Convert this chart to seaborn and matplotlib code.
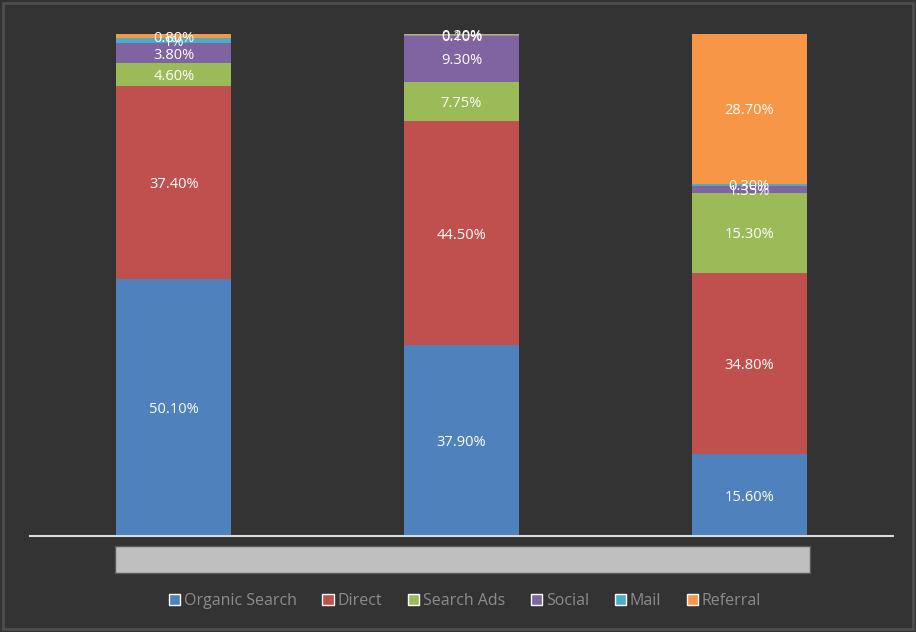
import numpy as np
import pandas as pd
import seaborn as sns
import matplotlib
matplotlib.use("Agg")
import matplotlib.pyplot as plt
from matplotlib.patches import Rectangle

# ---- data ----
groups = ["A", "B", "C"]
series = ["Organic Search", "Direct", "Search Ads", "Social", "Mail", "Referral"]
organic_search = [50.10, 37.90, 15.60]
direct = [37.40, 44.50, 34.80]
search_ads = [4.60, 7.75, 15.30]
social = [3.80, 9.30, 1.35]
mail = [1.0, 0.10, 0.30]
referral = [0.80, 0.20, 28.70]
colors = ["#4F81BD", "#C0504D", "#9BBB59", "#8064A2", "#4BACC6", "#F79646"]

values = {
    "Organic Search": organic_search,
    "Direct": direct,
    "Search Ads": search_ads,
    "Social": social,
    "Mail": mail,
    "Referral": referral,
}

def fmt(v):
    if float(v).is_integer():
        return f"{int(v)}%"
    return f"{v:.2f}%"

df = pd.DataFrame(values, index=groups)
share = df.div(df.sum(axis=1), axis=0) * 100
cum = share.cumsum(axis=1)

sns.set_theme(style="white")
plt.rcParams["font.family"] = ["Open Sans", "DejaVu Sans"]

bg = "#333333"
fig = plt.figure(figsize=(9.16, 6.32), dpi=100, facecolor=bg)
ax = fig.add_axes([30 / 916, 1 - 536 / 632, (893 - 30) / 916, (536 - 34) / 632])
ax.set_facecolor(bg)

# layered cumulative bars: draw tallest (top series) first
for name, col in reversed(list(zip(series, colors))):
    d = pd.DataFrame({"group": groups, "top": cum[name].values})
    sns.barplot(data=d, x="group", y="top", color=col, width=0.4,
                saturation=1, ax=ax, edgecolor="none", linewidth=0)

# labels at segment centres
for name in series:
    lower = cum[name] - share[name]
    for i, g in enumerate(groups):
        yc = lower[g] + share[name][g] / 2
        ax.text(i, yc, fmt(df.loc[g, name]), ha="center", va="center_baseline",
                color="white", fontsize=10.5)

ax.set_xlim(-0.5, 2.5)
ax.set_ylim(0, 100)
ax.set_xticks([])
ax.set_yticks([])
ax.set_xlabel("")
ax.set_ylabel("")
for s in ["top", "left", "right"]:
    ax.spines[s].set_visible(False)
ax.spines["bottom"].set_color("#d9d9d9")
ax.spines["bottom"].set_linewidth(1.5)

# grey category strip below axis
fig.patches.append(Rectangle((115 / 916, 1 - 573 / 632), (810 - 115) / 916, 27 / 632,
                             transform=fig.transFigure, facecolor="#bfbfbf",
                             edgecolor="#595959", linewidth=1))
# outer border
fig.patches.append(Rectangle((3 / 916, 3 / 632), 910 / 916, 626 / 632,
                             transform=fig.transFigure, facecolor="none",
                             edgecolor="#4d4d4d", linewidth=2))

handles = [Rectangle((0, 0), 1, 1, facecolor=c) for c in colors]
leg = fig.legend(handles, series, loc="center", bbox_to_anchor=(465 / 916, 1 - 601 / 632),
                 ncol=6, frameon=False, fontsize=11.5, handlelength=0.7, handleheight=0.7,
                 handletextpad=0.25, columnspacing=1.6, labelcolor="#8c8c8c")

fig.savefig("out.png", dpi=100, facecolor=bg)
